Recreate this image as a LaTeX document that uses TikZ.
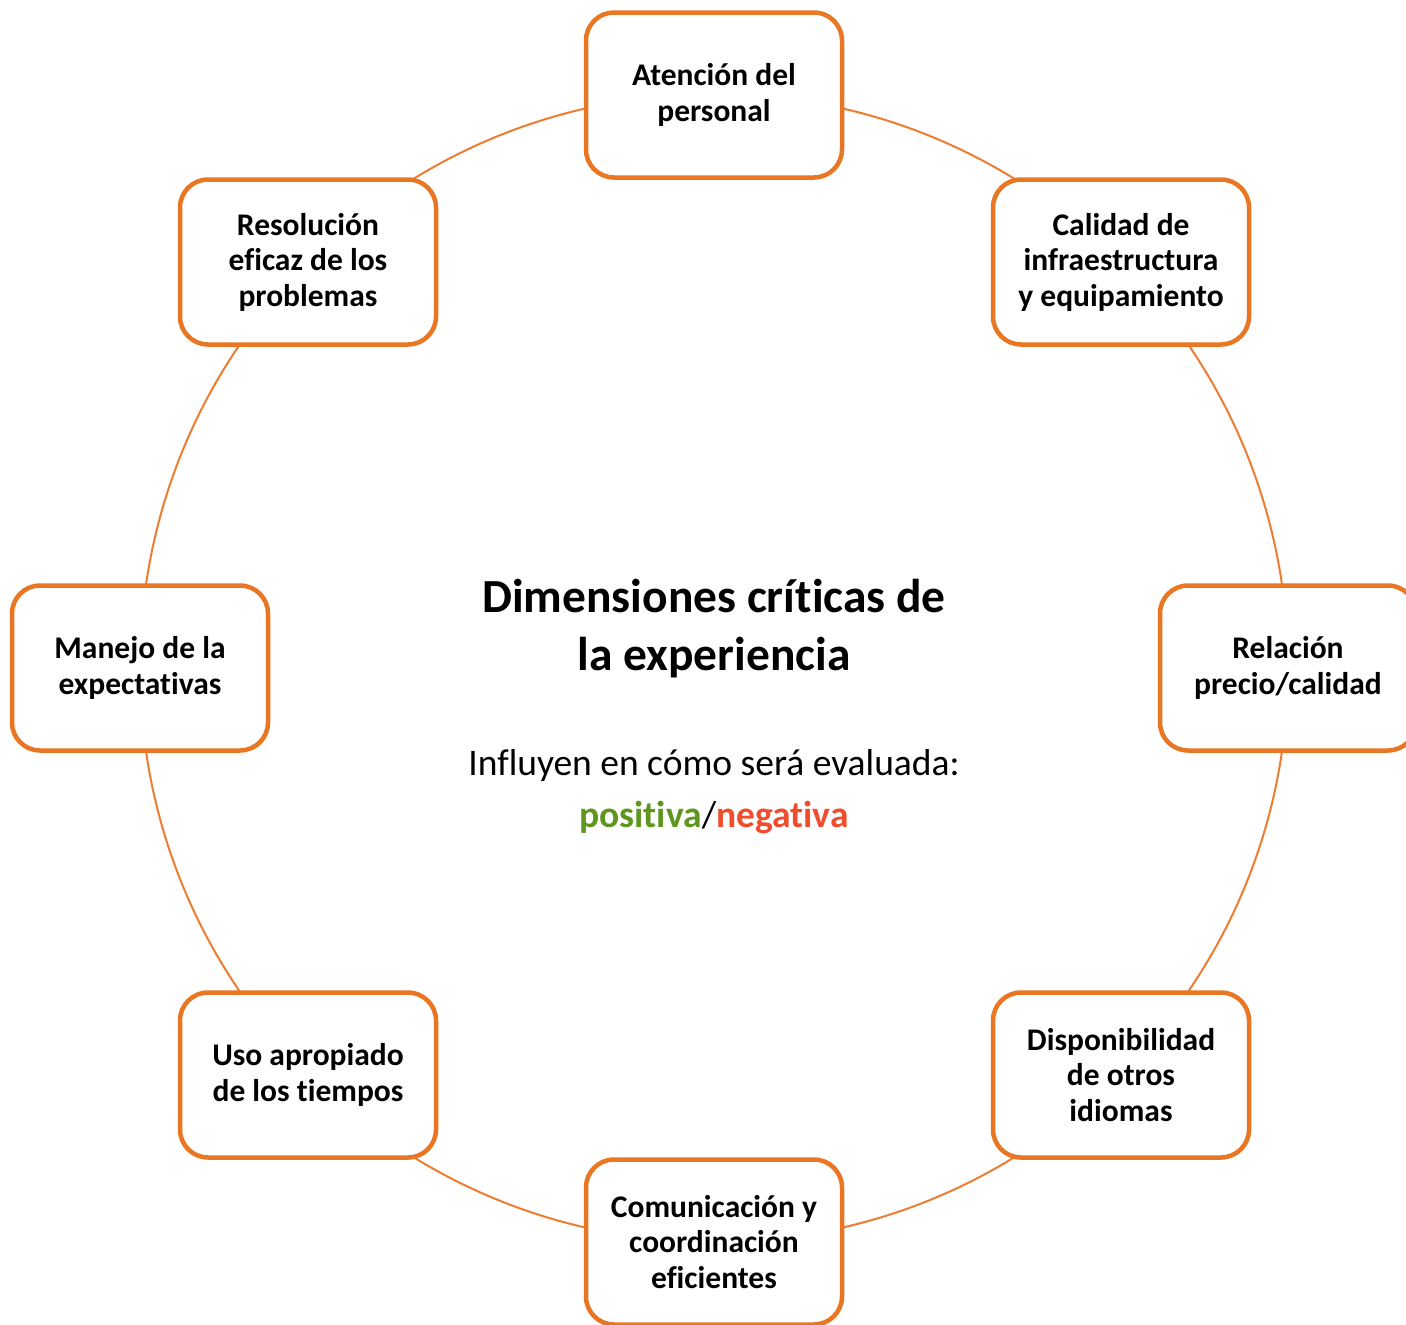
\documentclass[tikz,border=0pt]{standalone}
\usepackage{fontspec}
\setmainfont{Carlito}[Ligatures=NoCommon]
\definecolor{boxorange}{RGB}{232,118,34}
\definecolor{lineorange}{RGB}{237,125,49}
\definecolor{posgreen}{RGB}{94,150,30}
\definecolor{negred}{RGB}{240,76,46}
\tikzset{
  dimbox/.style={draw=boxorange, line width=4.5pt, fill=white, rounded corners=28pt,
    minimum width=256pt, minimum height=165pt, align=center, inner sep=0pt,
    font=\fontsize{31.5}{35.5}\selectfont\bfseries},
  ring/.style={draw=lineorange, line width=2pt}
}
\begin{document}
\begin{tikzpicture}[x=1pt,y=-1pt]
\useasboundingbox (0,0) rectangle (1406,1325);
\clip (0,0) rectangle (1406,1325);
\fill[white] (0,0) rectangle (1406,1325);
\coordinate (c) at (714,668);
\draw[ring] (c) circle (574);
\node[dimbox] (n) at (714,95) {Atención del\\personal};
\node[dimbox] (ne) at (1121,262) {Calidad de\\infraestructura\\y equipamiento};
\node[dimbox] (e) at (1288,668) {Relación\\precio/calidad};
\node[dimbox] (se) at (1121,1075) {Disponibilidad\\de otros\\idiomas};
\node[dimbox] (s) at (714,1242) {Comunicación y\\coordinación\\eficientes};
\node[dimbox] (sw) at (308,1075) {Uso apropiado\\de los tiempos};
\node[dimbox] (w) at (140,668) {Manejo de la\\expectativas};
\node[dimbox] (nw) at (308,262) {Resolución\\eficaz de los\\problemas};
\node[align=center, font=\fontsize{47.5}{58}\selectfont\bfseries] (title) at (714,629) {Dimensiones críticas de\\la experiencia};
\node[font=\fontsize{37.5}{42}\selectfont] (sub) at (714,765) {Influyen en cómo será evaluada:};
\node[font=\fontsize{37.5}{42}\selectfont] (pn) at (714,818) {\textcolor{posgreen}{\bfseries positiva}/\textcolor{negred}{\bfseries negativa}};
\end{tikzpicture}
\end{document}
